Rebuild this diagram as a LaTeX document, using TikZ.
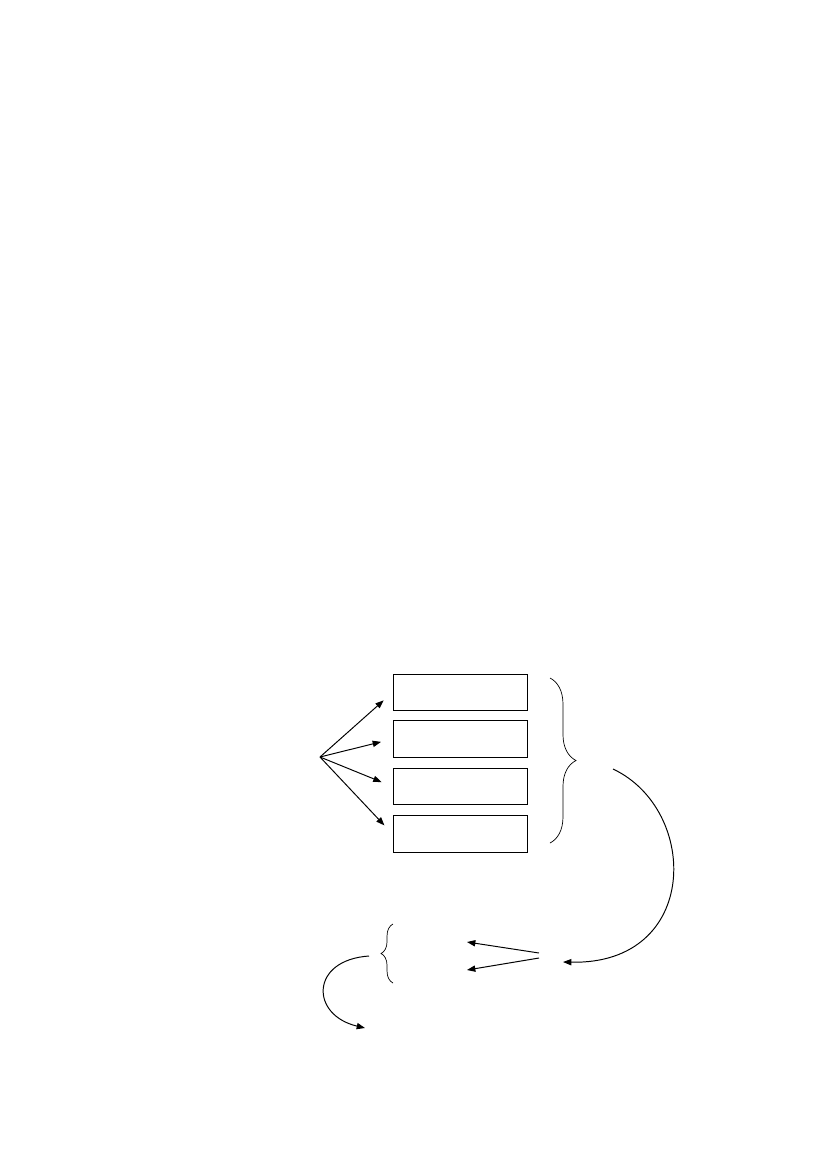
\documentclass[tikz,border=0pt]{standalone}
\usetikzlibrary{arrows.meta,decorations.pathreplacing,positioning}
\tikzset{
	slot/.style={draw,line width=0.7pt,minimum width=96.5pt,minimum height=26pt,inner sep=0pt},
	pointer/.style={-{Triangle[length=6pt,width=4.5pt]},line width=0.7pt},
	curly/.style={decorate,decoration={brace,amplitude=#1},line width=0.5pt}
}
\begin{document}
\begin{tikzpicture}[x=0.72pt,y=-0.72pt]
			\useasboundingbox (0,0) rectangle (827,1169);
			\foreach \n/\y in {1/692.5,2/739,3/786.5,4/834} \node[slot] (box\n) at (460,\y) {};

			\coordinate (fan) at (320,757);
			\path[pointer,shorten >=8.5pt] (fan) edge (box1.west)
			(fan) edge (box2.west)
			(fan) edge (box3.west)
			(fan) edge (box4.west);

			% braces
			\draw[curly=18.7pt] (550,678) -- (550,843);
			\draw[curly=8.6pt] (393,983) -- (393,924);

			\coordinate (loopA) at (613,769);
			\coordinate (loopB) at (563,962);
			\draw[pointer] (loopA) .. controls (700,810) and (700,965) .. (loopB);

			\coordinate (pick1) at (539,953);
			\coordinate (pick2) at (539,958);
			\coordinate (tgt1) at (467,942);
			\coordinate (tgt2) at (467,970);
			\path[pointer] (pick1) edge (tgt1)
			(pick2) edge (tgt2);

			\coordinate (backA) at (369,956);
			\coordinate (backB) at (365,1028);
			\draw[pointer] (backA) .. controls (310,960) and (310,1015) .. (backB);
\end{tikzpicture}
\end{document}
